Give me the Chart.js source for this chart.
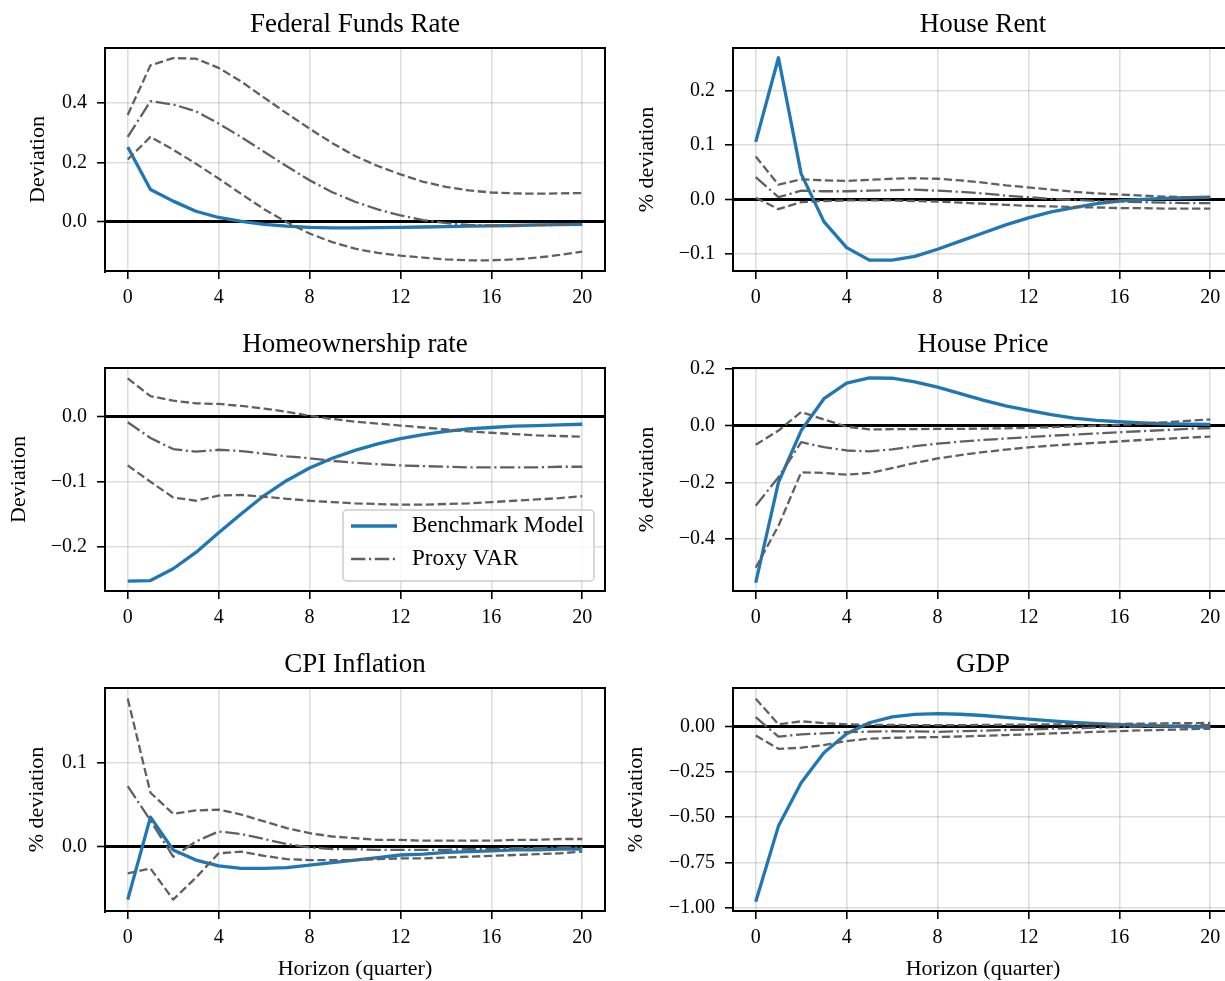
<!DOCTYPE html>
<html>
<head>
<meta charset="utf-8">
<script src="https://cdn.jsdelivr.net/npm/chart.js@4.4.1/dist/chart.umd.min.js"></script>
<style>
  html, body { margin: 0; padding: 0; background: #fff; overflow: hidden; width: 1225px; height: 981px; }
  canvas { position: absolute; }
</style>
</head>
<body>
<canvas id="ffr"></canvas>
<canvas id="rent"></canvas>
<canvas id="home"></canvas>
<canvas id="price"></canvas>
<canvas id="cpi"></canvas>
<canvas id="gdp"></canvas>
<script>
// --- DATOS ---
const horizon = [0, 1, 2, 3, 4, 5, 6, 7, 8, 9, 10, 11, 12, 13, 14, 15, 16, 17, 18, 19, 20];
const xTicks = [0, 4, 8, 12, 16, 20];

const ffrModel = [0.252, 0.109, 0.070, 0.036, 0.015, 0.002, -0.008, -0.014, -0.018, -0.020, -0.020, -0.019, -0.018, -0.017, -0.016, -0.014, -0.013, -0.012, -0.010, -0.009, -0.008];
const ffrVar   = [0.286, 0.406, 0.395, 0.372, 0.331, 0.285, 0.236, 0.187, 0.140, 0.100, 0.068, 0.042, 0.022, 0.006, -0.004, -0.010, -0.012, -0.012, -0.011, -0.010, -0.008];
const ffrUpper = [0.360, 0.527, 0.551, 0.549, 0.518, 0.472, 0.418, 0.365, 0.314, 0.265, 0.222, 0.188, 0.160, 0.135, 0.118, 0.106, 0.099, 0.096, 0.095, 0.096, 0.097];
const ffrLower = [0.210, 0.286, 0.243, 0.196, 0.146, 0.094, 0.043, -0.001, -0.039, -0.068, -0.090, -0.104, -0.113, -0.120, -0.126, -0.129, -0.129, -0.126, -0.120, -0.111, -0.100];
const ffrTicks = [0, 0.2, 0.4];

const rentModel = [0.106, 0.261, 0.047, -0.041, -0.089, -0.112, -0.112, -0.105, -0.092, -0.077, -0.062, -0.047, -0.034, -0.023, -0.015, -0.008, -0.003, 0.000, 0.002, 0.003, 0.004];
const rentVar   = [0.041, 0.004, 0.016, 0.015, 0.015, 0.016, 0.017, 0.018, 0.016, 0.014, 0.011, 0.007, 0.004, 0.001, -0.001, -0.003, -0.004, -0.005, -0.006, -0.007, -0.007];
const rentUpper = [0.079, 0.027, 0.037, 0.035, 0.034, 0.036, 0.038, 0.039, 0.038, 0.035, 0.031, 0.026, 0.022, 0.018, 0.014, 0.011, 0.009, 0.007, 0.005, 0.004, 0.004];
const rentLower = [0.003, -0.018, -0.005, -0.003, -0.002, -0.002, -0.002, -0.003, -0.004, -0.006, -0.008, -0.010, -0.012, -0.013, -0.014, -0.015, -0.016, -0.016, -0.017, -0.017, -0.017];
const rentTicks = [-0.1, 0, 0.1, 0.2];

const homeModel = [-0.252, -0.251, -0.233, -0.208, -0.178, -0.149, -0.121, -0.098, -0.079, -0.064, -0.052, -0.042, -0.034, -0.028, -0.023, -0.019, -0.017, -0.015, -0.014, -0.013, -0.012];
const homeVar   = [-0.009, -0.033, -0.050, -0.054, -0.051, -0.053, -0.057, -0.061, -0.064, -0.068, -0.071, -0.073, -0.075, -0.076, -0.077, -0.078, -0.078, -0.078, -0.078, -0.077, -0.077];
const homeUpper = [0.058, 0.031, 0.024, 0.020, 0.019, 0.016, 0.012, 0.007, 0.001, -0.004, -0.008, -0.011, -0.014, -0.017, -0.020, -0.023, -0.025, -0.027, -0.029, -0.030, -0.031];
const homeLower = [-0.075, -0.100, -0.124, -0.129, -0.121, -0.120, -0.123, -0.126, -0.129, -0.131, -0.133, -0.134, -0.135, -0.135, -0.134, -0.133, -0.131, -0.129, -0.127, -0.125, -0.122];
const homeTicks = [-0.2, -0.1, 0];

const priceModel = [-0.553, -0.200, -0.018, 0.094, 0.149, 0.167, 0.166, 0.153, 0.135, 0.112, 0.089, 0.069, 0.053, 0.038, 0.026, 0.018, 0.013, 0.009, 0.006, 0.005, 0.004];
const priceVar   = [-0.282, -0.182, -0.059, -0.076, -0.088, -0.091, -0.084, -0.073, -0.064, -0.057, -0.051, -0.046, -0.041, -0.036, -0.032, -0.028, -0.024, -0.020, -0.016, -0.012, -0.009];
const priceUpper = [-0.068, -0.018, 0.047, 0.021, -0.004, -0.014, -0.013, -0.013, -0.012, -0.012, -0.011, -0.010, -0.008, -0.006, -0.004, -0.001, 0.002, 0.006, 0.011, 0.016, 0.021];
const priceLower = [-0.500, -0.353, -0.165, -0.167, -0.173, -0.167, -0.150, -0.132, -0.116, -0.104, -0.094, -0.085, -0.077, -0.071, -0.066, -0.061, -0.056, -0.051, -0.047, -0.043, -0.039];
const priceTicks = [-0.4, -0.2, 0, 0.2];

const cpiModel = [-0.063, 0.035, -0.004, -0.016, -0.023, -0.026, -0.026, -0.025, -0.022, -0.019, -0.016, -0.013, -0.010, -0.009, -0.007, -0.006, -0.005, -0.004, -0.004, -0.003, -0.003];
const cpiVar   = [0.072, 0.031, -0.012, 0.006, 0.018, 0.015, 0.009, 0.003, -0.001, -0.003, -0.003, -0.004, -0.004, -0.004, -0.004, -0.003, -0.003, -0.002, -0.002, -0.001, -0.001];
const cpiUpper = [0.176, 0.064, 0.039, 0.043, 0.044, 0.038, 0.030, 0.022, 0.016, 0.012, 0.010, 0.008, 0.008, 0.007, 0.007, 0.007, 0.007, 0.008, 0.008, 0.009, 0.009];
const cpiLower = [-0.032, -0.026, -0.063, -0.037, -0.008, -0.006, -0.011, -0.015, -0.016, -0.016, -0.016, -0.015, -0.014, -0.014, -0.013, -0.012, -0.011, -0.010, -0.009, -0.008, -0.006];
const cpiTicks = [0, 0.1];

const gdpModel = [-0.967, -0.549, -0.309, -0.144, -0.039, 0.022, 0.055, 0.068, 0.072, 0.069, 0.062, 0.052, 0.042, 0.032, 0.024, 0.017, 0.012, 0.008, 0.004, 0.001, -0.002];
const gdpVar   = [0.053, -0.055, -0.042, -0.037, -0.030, -0.027, -0.025, -0.026, -0.028, -0.025, -0.022, -0.018, -0.015, -0.011, -0.008, -0.005, -0.002, 0.001, 0.004, 0.007, 0.009];
const gdpUpper = [0.155, 0.013, 0.030, 0.020, 0.013, 0.011, 0.010, 0.009, 0.009, 0.009, 0.010, 0.011, 0.012, 0.013, 0.014, 0.015, 0.016, 0.017, 0.019, 0.020, 0.021];
const gdpLower = [-0.048, -0.122, -0.116, -0.101, -0.079, -0.066, -0.061, -0.059, -0.057, -0.054, -0.050, -0.046, -0.042, -0.037, -0.033, -0.028, -0.024, -0.020, -0.017, -0.014, -0.011];
const gdpTicks = [-1, -0.75, -0.5, -0.25, 0];

// --- ESTILO ---
const FONT = "'Liberation Serif', 'Times New Roman', serif";
const BLUE = '#1f77b4';
const GRAY = '#606060';
const DASH = [8.3, 3.6];
const DASHDOT = [14.4, 3.6, 2.2, 3.6];

Chart.defaults.font.family = FONT;
Chart.defaults.color = '#000';

// leyenda dentro del area del grafico (abajo a la derecha)
const insideLegend = {
  id: 'insideLegend',
  afterDraw(chart, args, opts) {
    if (!opts.show) return;
    const { ctx, chartArea: a } = chart;
    const w = 251, h = 71;
    const x = a.right - 11 - w, y = a.bottom - 10 - h;
    ctx.save();
    ctx.beginPath();
    ctx.roundRect(x, y, w, h, 4);
    ctx.fillStyle = 'rgba(255,255,255,0.8)';
    ctx.fill();
    ctx.lineWidth = 1.5;
    ctx.strokeStyle = '#cccccc';
    ctx.stroke();
    chart.data.datasets.slice(0, 2).forEach((ds, i) => {
      const cy = y + 16 + i * 33;
      ctx.beginPath();
      ctx.setLineDash(ds.borderDash || []);
      ctx.lineCap = 'butt';
      ctx.strokeStyle = ds.borderColor;
      ctx.lineWidth = ds.borderWidth;
      ctx.moveTo(x + 8, cy);
      ctx.lineTo(x + 54, cy);
      ctx.stroke();
      ctx.setLineDash([]);
      ctx.fillStyle = '#000';
      ctx.font = '23px ' + FONT;
      ctx.textBaseline = 'middle';
      ctx.fillText(ds.label, x + 69, cy);
    });
    ctx.restore();
  }
};

function fmt(v, d) {
  return (v < -1e-9 ? '\u2212' : '') + Math.abs(v).toFixed(d);
}

function pts(arr) {
  return horizon.map((h, i) => ({ x: h, y: arr[i] }));
}

const panels = [
  { id: 'ffr', title: 'Federal Funds Rate', yLabel: 'Deviation', left: 0, top: 0, w: 612, h: 320, padLeft: 25, yWidth: 80, xHeight: 49,
    yMin: -0.165, yMax: 0.585, yTicks: ffrTicks, dec: 1, series: [ffrModel, ffrVar, ffrUpper, ffrLower] },
  { id: 'rent', title: 'House Rent', yLabel: '% deviation', left: 612, top: 0, w: 628, h: 320, padLeft: 22, yWidth: 99, xHeight: 49,
    yMin: -0.132, yMax: 0.279, yTicks: rentTicks, dec: 1, series: [rentModel, rentVar, rentUpper, rentLower] },
  { id: 'home', title: 'Homeownership rate', yLabel: 'Deviation', left: 0, top: 320, w: 612, h: 320, padLeft: 6, yWidth: 99, xHeight: 49,
    yMin: -0.267, yMax: 0.074, yTicks: homeTicks, dec: 1, series: [homeModel, homeVar, homeUpper, homeLower], legend: true },
  { id: 'price', title: 'House Price', yLabel: '% deviation', left: 612, top: 320, w: 628, h: 320, padLeft: 22, yWidth: 99, xHeight: 49,
    yMin: -0.582, yMax: 0.202, yTicks: priceTicks, dec: 1, series: [priceModel, priceVar, priceUpper, priceLower] },
  { id: 'cpi', title: 'CPI Inflation', yLabel: '% deviation', left: 0, top: 640, w: 612, h: 342, padLeft: 24, yWidth: 81, xHeight: 71,
    yMin: -0.0766, yMax: 0.1886, yTicks: cpiTicks, dec: 1, series: [cpiModel, cpiVar, cpiUpper, cpiLower], xLabel: 'Horizon (quarter)' },
  { id: 'gdp', title: 'GDP', yLabel: '% deviation', left: 612, top: 640, w: 628, h: 342, padLeft: 11, yWidth: 110, xHeight: 71,
    yMin: -1.018, yMax: 0.214, yTicks: gdpTicks, dec: 2, series: [gdpModel, gdpVar, gdpUpper, gdpLower], xLabel: 'Horizon (quarter)' }
];

const GRID = 'rgba(0,0,0,0.13)';
const xGrid = { color: GRID, lineWidth: 1.6, tickColor: '#000', tickWidth: 1.6, tickLength: 8 };
// la linea del cero va en negro y mas gruesa
const yGrid = {
  color: c => (c.tick && c.tick.value === 0) ? '#000' : GRID,
  lineWidth: c => (c.tick && c.tick.value === 0) ? 3 : 1.6,
  tickColor: '#000',
  tickWidth: 1.6,
  tickLength: 8
};
const borderOpts = { display: true, color: '#000', width: 2, z: 1 };

panels.forEach(p => {
  const cv = document.getElementById(p.id);
  cv.width = p.w;
  cv.height = p.h;
  cv.style.left = p.left + 'px';
  cv.style.top = p.top + 'px';

  const [model, proxy, upper, lower] = p.series;
  new Chart(cv, {
    type: 'line',
    data: {
      datasets: [
        { label: 'Benchmark Model', data: pts(model), borderColor: BLUE, borderWidth: 3.3, order: 9 },
        { label: 'Proxy VAR', data: pts(proxy), borderColor: GRAY, borderWidth: 2.3, borderDash: DASHDOT, borderCapStyle: 'butt', order: 1 },
        { label: 'upper', data: pts(upper), borderColor: GRAY, borderWidth: 2.3, borderDash: DASH, borderCapStyle: 'butt', order: 2 },
        { label: 'lower', data: pts(lower), borderColor: GRAY, borderWidth: 2.3, borderDash: DASH, borderCapStyle: 'butt', order: 3 }
      ]
    },
    options: {
      responsive: false,
      animation: false,
      events: [],
      layout: { padding: { left: p.padLeft, right: 0, top: 0, bottom: 0 } },
      elements: { point: { radius: 0 }, line: { tension: 0, borderJoinStyle: 'round', fill: false } },
      plugins: { legend: { display: false }, tooltip: { enabled: false }, insideLegend: { show: !!p.legend } },
      scales: {
        x: {
          type: 'linear', position: 'bottom', min: -1, max: 21,
          afterBuildTicks: s => { s.ticks = xTicks.map(v => ({ value: v })); },
          afterFit: s => { s.height = p.xHeight; },
          ticks: { font: { size: 20 }, padding: 7, maxRotation: 0, callback: v => String(v) },
          grid: xGrid,
          border: borderOpts,
          title: { display: !!p.xLabel, text: p.xLabel || '', font: { size: 22 }, padding: { top: 0, bottom: 0 } }
        },
        y: {
          type: 'linear', position: 'left', min: p.yMin, max: p.yMax,
          afterBuildTicks: s => { s.ticks = p.yTicks.map(v => ({ value: v })); },
          afterFit: s => { s.width = p.yWidth; },
          ticks: { font: { size: 20 }, padding: 10, callback: v => fmt(v, p.dec) },
          grid: yGrid,
          border: borderOpts,
          title: { display: true, text: p.yLabel, font: { size: 22 }, padding: { top: 0, bottom: 0 } }
        },
        x2: {
          type: 'linear', position: 'top', min: -1, max: 21,
          afterFit: s => { s.height = 48; },
          ticks: { display: false },
          grid: { display: false },
          border: borderOpts,
          title: { display: true, text: p.title, font: { size: 27 }, padding: { top: 9, bottom: 0 } }
        },
        y2: {
          type: 'linear', position: 'right', min: p.yMin, max: p.yMax,
          afterFit: s => { s.width = 7; },
          ticks: { display: false },
          grid: { display: false },
          border: borderOpts
        }
      }
    },
    plugins: [insideLegend]
  });
});
</script>
</body>
</html>
